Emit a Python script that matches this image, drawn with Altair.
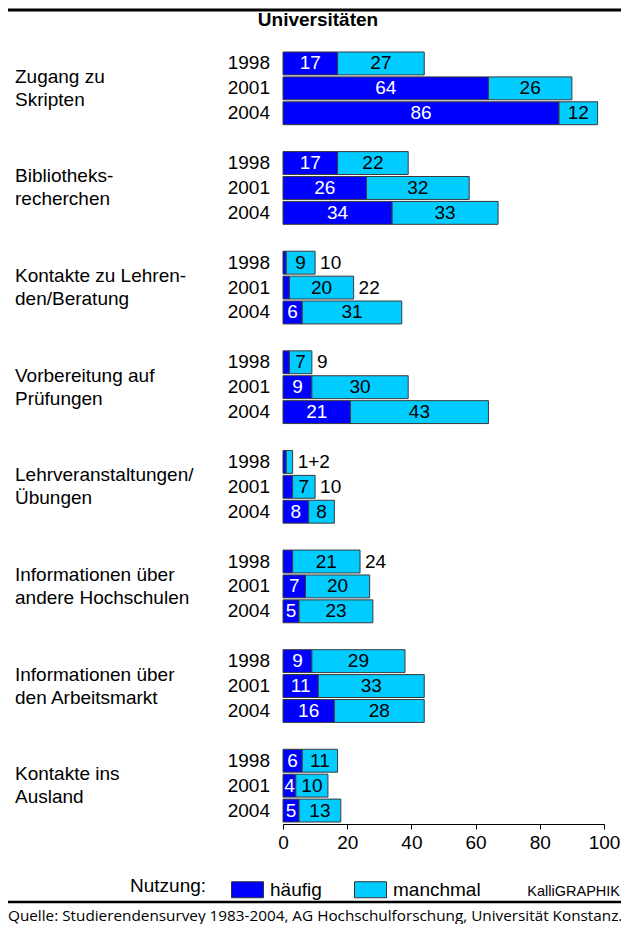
import altair as alt
import pandas as pd

categories = [
    "Zugang zu\nSkripten",
    "Bibliotheks-\nrecherchen",
    "Kontakte zu Lehren-\nden/Beratung",
    "Vorbereitung auf\nPrüfungen",
    "Lehrveranstaltungen/\nÜbungen",
    "Informationen über\nandere Hochschulen",
    "Informationen über\nden Arbeitsmarkt",
    "Kontakte ins\nAusland",
]
years = ["1998", "2001", "2004"]
haeufig = [17, 64, 86, 17, 26, 34, 1, 2, 6, 2, 9, 21, 1, 3, 8, 3, 7, 5, 9, 11, 16, 6, 4, 5]
manchmal = [27, 26, 12, 22, 32, 33, 9, 20, 31, 7, 30, 43, 2, 7, 8, 21, 20, 23, 29, 33, 28, 11, 10, 13]
outside = ["", "", "", "", "", "", "10", "22", "", "9", "", "", "1+2", "10", "", "24", "", "", "", "", "", "", "", ""]
series = ["häufig", "manchmal"]
colors = ["#0000FF", "#00CCFF"]
ticks = [0, 20, 40, 60, 80, 100]

FONT = "Liberation Sans"
FS = 19

rows, rrows, crows, domain = [], [], [], []
for g, cat in enumerate(categories):
    for yi, yr in enumerate(years):
        i = g * 3 + yi
        k = f"{g}-{yr}"
        domain.append(k)
        h, m = haeufig[i], manchmal[i]
        rows.append(dict(key=k, Nutzung="häufig", value=h, start=0, end=h, mid=h / 2))
        rows.append(dict(key=k, Nutzung="manchmal", value=m, start=h, end=h + m, mid=h + m / 2))
        rrows.append(dict(key=k, year=yr, total=h + m, outside=outside[i]))
    crows.append(dict(key=f"{g}-2001", label=cat))
    if g < len(categories) - 1:
        domain.append(f"{g}-sp")

df = pd.DataFrame(rows)
rdf = pd.DataFrame(rrows)
cdf = pd.DataFrame(crows)
one = pd.DataFrame({"a": [0]})

yenc = alt.Y("key:N", scale=alt.Scale(domain=domain, paddingInner=0.08, paddingOuter=0.04), axis=None)

xscale = alt.Scale(domain=[0, 100], nice=False)

bars = alt.Chart(df).mark_bar(stroke="#3a3a3a", strokeWidth=1).encode(
    x=alt.X("start:Q", scale=xscale, axis=alt.Axis(
        values=ticks, grid=False, title=None, domainColor="black", tickColor="black",
        labelFontSize=FS, labelFont=FONT, labelColor="black", tickSize=5, labelPadding=4,
        offset=1, format="d", labelFlush=False, labelOverlap=False)),
    x2="end:Q",
    y=yenc,
    color=alt.Color("Nutzung:N", scale=alt.Scale(domain=series, range=colors), legend=alt.Legend(
        title="Nutzung:", orient="none", legendX=-153, legendY=822, direction="horizontal",
        titleOrient="left", titleFontSize=FS, titleFontWeight="normal", titleFont=FONT,
        titleColor="black", labelFontSize=FS, labelFont=FONT, labelColor="black",
        symbolType="M-1,-0.5H1V0.5H-1Z", symbolSize=1024, symbolStrokeColor="#333",
        symbolStrokeWidth=1, symbolOpacity=1, columnPadding=30, labelOffset=6, titlePadding=24)),
)

inside = alt.Chart(df).transform_filter("datum.value >= 4").mark_text(
    fontSize=FS, font=FONT, baseline="middle").encode(
    x="mid:Q", y=yenc, text="value:Q",
    color=alt.condition("datum.Nutzung == 'häufig'", alt.value("white"), alt.value("black")),
)

outer = alt.Chart(rdf).transform_filter("datum.outside != ''").mark_text(
    fontSize=FS, font=FONT, align="left", dx=5, baseline="middle", color="black").encode(
    x="total:Q", y=yenc, text="outside:N")

yearlab = alt.Chart(rdf).mark_text(
    fontSize=FS, font=FONT, align="right", dx=-13, baseline="middle", color="black").encode(
    x=alt.datum(0), y=yenc, text="year:N")

catlab = alt.Chart(cdf).mark_text(
    fontSize=FS, font=FONT, align="left", dx=-268, dy=-11.5, baseline="middle", lineBreak="\n",
    lineHeight=23, color="black").encode(
    x=alt.datum(0), y=yenc, text="label:N")

title = alt.Chart(one).mark_text(fontSize=FS, font=FONT, fontWeight="bold", color="black",
                                 baseline="middle").encode(
    x=alt.value(35), y=alt.value(-31), text=alt.value("Universitäten"))

topline = alt.Chart(one).mark_rule(color="black", strokeWidth=3).encode(
    x=alt.value(-275), x2=alt.value(338), y=alt.value(-41))

footline = alt.Chart(one).mark_rule(color="black", strokeWidth=2.5).encode(
    x=alt.value(-275), x2=alt.value(338), y=alt.value(851))

kalli = alt.Chart(one).mark_text(fontSize=14.5, font=FONT, align="right", baseline="middle",
                                 color="black").encode(
    x=alt.value(337), y=alt.value(841), text=alt.value("KalliGRAPHIK"))

source = alt.Chart(one).mark_text(fontSize=15.3, font="Open Sans", align="left", baseline="middle",
                                  color="black").encode(
    x=alt.value(-275), y=alt.value(865),
    text=alt.value("Quelle: Studierendensurvey 1983-2004, AG Hochschulforschung, Universität Konstanz."))

chart = alt.layer(bars, inside, outer, yearlab, catlab, title, topline, footline, kalli, source).properties(
    width=321, height=772,
    padding={"left": 275, "top": 43, "right": 17, "bottom": 101},
    autosize=alt.AutoSizeParams(type="none"),
).configure_view(stroke=None)

chart.save("out.html", embed_options={"renderer": "svg", "actions": False})
